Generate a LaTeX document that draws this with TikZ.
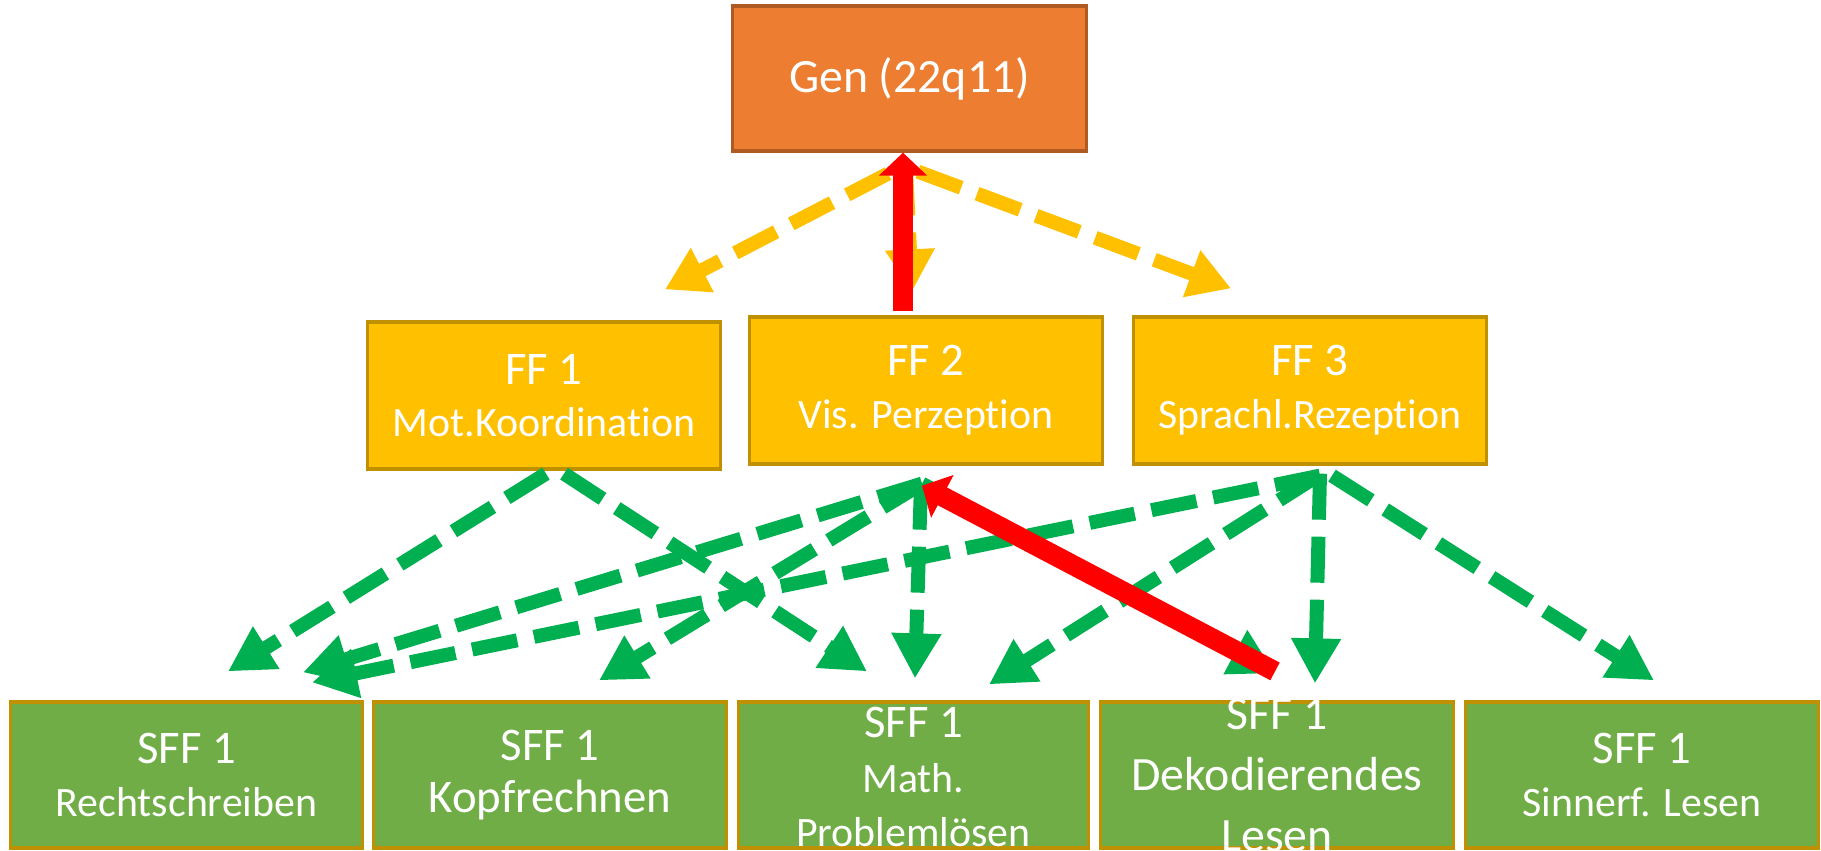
\documentclass[tikz,border=0pt]{standalone}
\usepackage{fontspec}
\setmainfont{Carlito}[Ligatures=NoCommon]
\usetikzlibrary{arrows.meta}

\definecolor{genorange}{HTML}{ED7D31}
\definecolor{genrand}{HTML}{AE5A21}
\definecolor{ffgelb}{HTML}{FFC000}
\definecolor{ffrand}{HTML}{BF9000}
\definecolor{sffgruen}{HTML}{70AD47}
\definecolor{pfeilgruen}{HTML}{00B050}
\definecolor{pfeilrot}{HTML}{FF0000}

\newcommand{\grosstext}{\fontsize{13.3}{15}\selectfont}
\newcommand{\kleintext}{\fontsize{11.9}{15}\selectfont}

\begin{document}
\begin{tikzpicture}[x=0.01cm, y=-0.01cm,
    kasten/.style={draw, line width=0.9pt, text=white, align=center, font=\grosstext, inner sep=0pt},
    gen/.style={kasten, fill=genorange, draw=genrand, minimum width=3.53cm, minimum height=1.45cm},
    ff/.style={kasten, fill=ffgelb, draw=ffrand, minimum width=3.53cm, minimum height=1.47cm},
    sff/.style={kasten, fill=sffgruen, draw=ffrand, minimum width=3.52cm, minimum height=1.46cm},
    kastentext/.style={text=white, align=center, inner sep=0pt},
    gelbpfeil/.style={draw=ffgelb, line width=0.14cm, dash pattern=on 0.46cm off 0.17cm, -{Triangle[length=0.42cm,width=0.47cm]}},
    gruenpfeil/.style={draw=pfeilgruen, line width=0.14cm, dash pattern=on 0.46cm off 0.17cm, -{Triangle[length=0.45cm,width=0.47cm]}},
    rotpfeil/.style={draw=pfeilrot, line width=0.2cm, -{Triangle[length=0.23cm,width=0.47cm]}}]
    \useasboundingbox (0,0) rectangle (1821,850);
    \clip (0,0) rectangle (1821,850);
    % Gene at the top
    \node[gen, font=\fontsize{13.6}{15}\selectfont] (gen) at (909.5,78.5) {Gen (22q11)};
    % Functions
    \node[ff] (ff1) at (544,395.5) {FF 1\\{\kleintext Mot.Koordination}};
    \node[ff] (ff2) at (926,390.5) {FF 2\\{\kleintext Vis. Perzeption}};
    \node[ff] (ff3) at (1310,390.5) {FF 3\\{\kleintext Sprachl.Rezeption}};
    % Sub-functions (the longer texts run over the box)
    \node[sff] (sffa) at (186.5,775) {SFF 1\\{\kleintext Rechtschreiben}};
    \node[sff] (sffb) at (550,775) {SFF 1\\Kopfrechnen};
    \node[sff, minimum width=3.49cm,
      label={[kastentext, font=\fontsize{13.3}{15.5}\selectfont, yshift=-0.02cm]center:{SFF 1\\{\kleintext Math.}\\{\kleintext Problemlösen}}}]
      (sffc) at (913.5,775) {};
    \node[sff,
      label={[kastentext, font=\fontsize{13.6}{17.4}\selectfont]center:{SFF 1\\Dekodierendes\\Lesen}}]
      (sffd) at (1277,775) {};
    \node[sff] (sffe) at (1642,775) {SFF 1\\{\kleintext Sinnerf. Lesen}};
    % Gene to functions
    \draw[gelbpfeil] ([shift={(-21.5,21)}]gen.south) -- ([shift={(121,-31)}]ff1.north);
    \draw[gelbpfeil] ([shift={(-3.5,17)}]gen.south) -- ([shift={(-14,-24)}]ff2.north);
    \draw[gelbpfeil] ([shift={(8.5,19)}]gen.south) -- ([shift={(-79,-27)}]ff3.north);
    % Functions to sub-functions
    \draw[gruenpfeil] ([shift={(2,3)}]ff1.south) -- ([shift={(41.5,-29)}]sffa.north);
    \draw[gruenpfeil] ([shift={(20,3)}]ff1.south) -- ([shift={(-46.5,-29)}]sffc.north);
    \draw[gruenpfeil] ([shift={(-4,18)}]ff2.south) -- ([shift={(49,-20)}]sffb.north);
    \draw[gruenpfeil] ([shift={(-5,18)}]ff2.south) -- ([shift={(1.5,-22)}]sffc.north);
    \draw[gruenpfeil] ([shift={(-4,18)}]ff2.south) -- ([shift={(116.5,-28)}]sffa.north);
    \draw[gruenpfeil] ([shift={(-4,18)}]ff2.south) -- ([shift={(-2,-27)}]sffd.north);
    \draw[gruenpfeil] ([shift={(10,10)}]ff3.south) -- ([shift={(125.5,-18)}]sffa.north);
    \draw[gruenpfeil] ([shift={(8,10)}]ff3.south) -- ([shift={(75.5,-16)}]sffc.north);
    \draw[gruenpfeil] ([shift={(10,8)}]ff3.south) -- ([shift={(38,-17)}]sffd.north);
    \draw[gruenpfeil] ([shift={(22,10)}]ff3.south) -- ([shift={(12,-20)}]sffe.north);
    % Feedback arrows
    \draw[rotpfeil] ([shift={(-23,-4)}]ff2.north) -- ([shift={(-6.5,0)}]gen.south);
    \draw[rotpfeil] ([shift={(-2,-29)}]sffd.north) -- ([shift={(-4,20)}]ff2.south);
\end{tikzpicture}
\end{document}
